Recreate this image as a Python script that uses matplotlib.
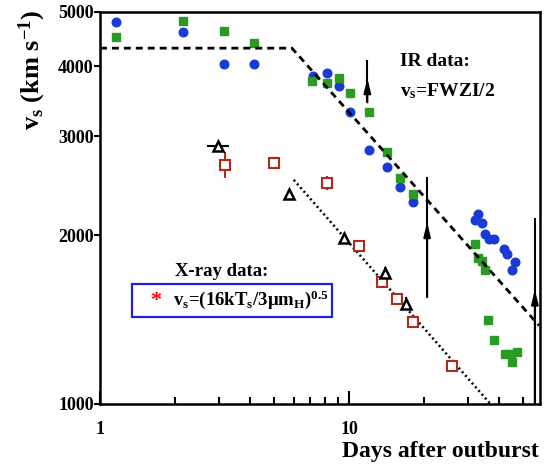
import numpy as np
import matplotlib
matplotlib.use("Agg")
import matplotlib.pyplot as plt
from matplotlib.ticker import FixedLocator, NullFormatter, NullLocator

plt.rcParams['font.family'] = ['Liberation Serif', 'DejaVu Serif']
plt.rcParams['font.weight'] = 'bold'
plt.rcParams['mathtext.fontset'] = 'custom'
plt.rcParams['mathtext.rm'] = 'Liberation Serif:bold'
plt.rcParams['mathtext.it'] = 'Liberation Serif:bold'
plt.rcParams['mathtext.bf'] = 'Liberation Serif:bold'
plt.rcParams['mathtext.default'] = 'rm'

# ---- IR data (FWZI/2) ----
ir_blue_days = [1.16, 2.15, 3.15, 4.15, 7.19, 8.14, 9.14, 10.09, 12.07, 14.17, 16.03, 18.13,
                33.1, 32.1, 34.1, 35.2, 36.6, 38.2, 41.9, 43.0, 46.4, 45.0]
ir_blue_vs = [4800, 4600, 4040, 4040, 3840, 3900, 3690, 3310, 2840, 2650, 2440, 2290,
              2180, 2130, 2100, 2010, 1970, 1970, 1890, 1850, 1790, 1730]

ir_green_days = [1.16, 2.15, 3.15, 4.15, 7.12, 8.14, 9.14, 10.09, 12.07, 14.17, 16.03, 18.13,
                 32.1, 32.9, 34.1, 35.2, 36.1, 38.2, 42.3, 44.7, 47.3, 45.2]
ir_green_vs = [4510, 4820, 4620, 4400, 3760, 3730, 3810, 3580, 3320, 2810, 2530, 2370,
               1930, 1820, 1800, 1730, 1410, 1300, 1230, 1230, 1240, 1190]

# lower limits (arrows)
arrow_days = [11.85, 20.6, 55.8]
arrow_lo = [3450, 1550, 1000]
arrow_hi = [4100, 2540, 2150]
arrow_head = [3810, 2110, 1600]

# ---- X-ray data ----
xr_sq_days = [3.18, 5.01, 8.14, 11.0, 13.53, 15.55, 18.13, 26.0]
xr_sq_vs = [2670, 2690, 2480, 1910, 1650, 1540, 1400, 1170]
xr_sq_err = [140, 60, 75, 45, 40, 35, 35, 30]

xr_tri_days = [2.99, 5.76, 9.59, 13.95, 16.93]
xr_tri_vs = [2890, 2370, 1980, 1710, 1510]
xr_tri_xerr = [0.3, 0, 0, 0, 0]
xr_tri_yerr = [0, 30, 30, 45, 40]

# fitted trends
ir_fit_days = [1.0, 5.9, 58.0]
ir_fit_vs = [4310, 4310, 1380]
xr_fit_days = [6.0, 37.0]
xr_fit_vs = [2510, 1000]

blue = '#1a3ad6'
green = '#2b9a22'
red = '#b0281e'

fig = plt.figure(figsize=(5.5, 4.72), dpi=100)
ax = fig.add_axes([0.1818, 0.1441, 0.8, 0.8305])
ax.set_xscale('log')
ax.set_yscale('log')

ax.plot(ir_blue_days, ir_blue_vs, 'o', color=blue, ms=6.2, mec=blue, zorder=3)
ax.plot(ir_green_days, ir_green_vs, 's', color=green, ms=6.0, mec=green, zorder=3)

ax.errorbar(xr_sq_days, xr_sq_vs, yerr=xr_sq_err, fmt='s', mfc='white', mec=red,
            ecolor=red, mew=1.5, ms=7, elinewidth=1.5, capsize=0, zorder=4)
ax.errorbar(xr_tri_days, xr_tri_vs, xerr=xr_tri_xerr, yerr=xr_tri_yerr, fmt='^',
            mfc='white', mec='black', ecolor='black', mew=1.8, ms=6.5, elinewidth=1.5,
            capsize=0, zorder=4)

ax.plot(ir_fit_days, ir_fit_vs, color='black', lw=2.0, ls=(0, (2.5, 1.8)), zorder=5)
ax.plot(xr_fit_days, xr_fit_vs, color='black', lw=1.8, ls=(0, (0.8, 1.2)), zorder=2)

ax.vlines(arrow_days, arrow_lo, arrow_hi, color='black', lw=1.5, zorder=3)
for d, lo, hd in zip(arrow_days, arrow_lo, arrow_head):
    ax.annotate('', xy=(d, hd), xytext=(d, lo),
                arrowprops=dict(arrowstyle='-|>,head_length=0.7,head_width=0.17',
                                color='black', lw=1.5,
                                mutation_scale=12, shrinkA=0, shrinkB=0))

ax.set_xlim(1, 58.5)
ax.set_ylim(1000, 5000)

ax.xaxis.set_major_locator(FixedLocator([1, 10]))
ax.set_xticklabels(['1', '10'])
ax.xaxis.set_minor_locator(FixedLocator([2, 3, 4, 5, 6, 7, 8, 9, 20, 30, 40, 50]))
ax.xaxis.set_minor_formatter(NullFormatter())
ax.yaxis.set_major_locator(FixedLocator([1000, 2000, 3000, 4000, 5000]))
ax.set_yticklabels(['1000', '2000', '3000', '4000', '5000'])
ax.yaxis.set_minor_locator(NullLocator())

ax.tick_params(axis='x', which='major', direction='in', length=9.5, width=1.5,
               labelsize=13, pad=12)
ax.tick_params(axis='x', which='minor', direction='in', length=5, width=1.5)
ax.tick_params(axis='y', which='major', direction='out', length=4, width=1.5,
               labelsize=13, pad=0.5)
for s in ax.spines.values():
    s.set_linewidth(1.8)

# annotations
ax.text(0.682, 0.873, 'IR data:', transform=ax.transAxes, fontsize=14,
        ha='left', va='center')
ax.text(0.682, 0.797, r'v$_s$=FWZI/2', transform=ax.transAxes, fontsize=14,
        ha='left', va='center')
ax.text(0.276, 0.3375, 'X-ray data:', transform=ax.transAxes, fontsize=13.5,
        ha='center', va='center')
ax.add_patch(plt.Rectangle((0.072, 0.2227), 0.456, 0.0823, transform=ax.transAxes,
                           fill=False, ec='#1f1fe0', lw=1.6))
ax.text(0.127, 0.262, '*', transform=ax.transAxes, fontsize=16, color='red',
        ha='center', va='center')
ax.text(0.166, 0.265, r'v$_s$=(16kT$_s$/3μm$_H$)$^{0.5}$', transform=ax.transAxes,
        fontsize=13.5, ha='left', va='center')

fig.text(32 / 550, 1 - 70 / 472, r'v$_s$ (km s$^{-1}$)', rotation=90, fontsize=19,
         ha='center', va='center')
fig.text(440 / 550, 1 - 452 / 472, 'Days after outburst', fontsize=17,
         ha='center', va='center')

fig.savefig('out.png', dpi=100)
